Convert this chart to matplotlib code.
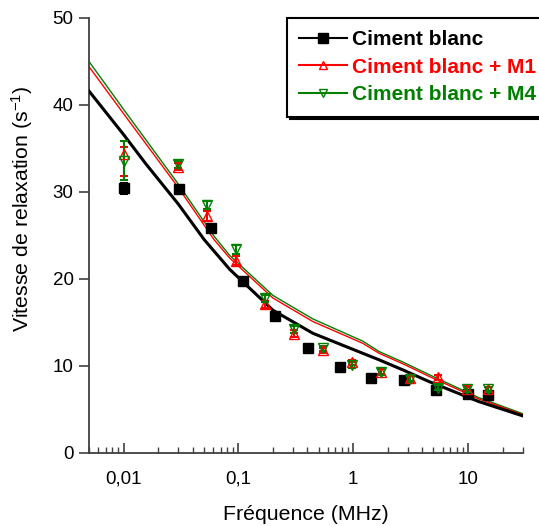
import matplotlib
matplotlib.use('Agg')
import matplotlib.pyplot as plt
from matplotlib.lines import Line2D
from matplotlib.ticker import LogLocator, NullFormatter
import numpy as np

plt.rcParams['font.family'] = ['Liberation Sans', 'DejaVu Sans']
plt.rcParams['mathtext.default'] = 'regular'

# points mesures (MHz, s-1)
freq_cb = [0.01, 0.0303, 0.058, 0.109, 0.207, 0.403, 0.762, 1.44, 2.75, 5.29, 10.0, 14.9]
r_cb = [30.4, 30.3, 25.9, 19.7, 15.7, 12.0, 9.85, 8.57, 8.38, 7.26, 6.76, 6.65]
err_cb = [0.6, 0.2, 0.2, 0.2, 0.2, 0.2, 0.2, 0.2, 0.2, 0.2, 0.2, 0.2]

freq_m = [0.01, 0.0298, 0.0536, 0.096, 0.171, 0.306, 0.541, 0.97, 1.74, 3.11, 5.5, 9.8, 14.8]
r_m1 = [34.4, 32.9, 27.2, 22.1, 17.1, 13.7, 11.8, 10.4, 9.35, 8.57, 8.7, 7.4, 7.3]
err_m1_low = [2.6, 0.4, 0.6, 0.5, 0.4, 0.4, 0.3, 0.3, 0.3, 0.3, 0.3, 0.3, 0.3]
err_m1_up = [0.8, 0.4, 0.6, 0.5, 0.4, 0.4, 0.3, 0.3, 0.3, 0.3, 0.3, 0.3, 0.3]
r_m4 = [33.6, 33.2, 28.5, 23.4, 17.8, 14.2, 12.0, 10.1, 9.3, 8.5, 7.5, 7.3, 7.3]
err_m4 = [2.2, 0.4, 0.5, 0.5, 0.4, 0.4, 0.3, 0.3, 0.3, 0.3, 0.3, 0.3, 0.3]

# courbes ajustees
freq_fit_cb = [0.005, 0.01, 0.0157, 0.03, 0.0505, 0.084, 0.2, 0.445, 1.21, 1.68, 2.75, 4.57, 12.4, 30]
fit_cb = [41.6, 36.6, 33.2, 28.6, 24.5, 21.1, 16.4, 13.75, 11.45, 10.7, 9.5, 8.2, 5.9, 4.25]
freq_fit_m = [0.005, 0.01, 0.03, 0.0615, 0.084, 0.2, 0.445, 1.21, 1.68, 2.75, 4.57, 12.4, 30]
fit_m1 = [44.4, 39.0, 30.5, 24.5, 22.4, 17.8, 15.1, 12.6, 11.45, 10.2, 8.8, 6.2, 4.4]
fit_m4 = [45.0, 39.5, 30.9, 24.9, 22.7, 18.1, 15.4, 12.85, 11.65, 10.4, 9.0, 6.35, 4.5]

xticks = [0.01, 0.1, 1, 10]
xtick_labels = ['0,01', '0,1', '1', '10']
yticks = [0, 10, 20, 30, 40, 50]

RED = '#ff0000'
GREEN = '#008000'
AXC = '#404040'

fig = plt.figure(figsize=(5.39, 5.26), dpi=100)
ax = fig.add_axes([0.165, 0.139, 0.805, 0.827])

ax.plot(freq_fit_m, fit_m4, color=GREEN, lw=1.0, zorder=2)
ax.plot(freq_fit_m, fit_m1, color=RED, lw=1.0, zorder=2)
ax.plot(freq_fit_cb, fit_cb, color='black', lw=2.2, zorder=3)

ax.errorbar(freq_cb, r_cb, yerr=err_cb, fmt='s', color='black', ms=7,
            capsize=3, elinewidth=1.5, capthick=1.5, zorder=4)
ax.errorbar(freq_m, r_m1, yerr=[err_m1_low, err_m1_up], fmt='^', color=RED,
            mfc='none', mec=RED, ms=7, capsize=3, elinewidth=1.5, capthick=1.5, zorder=5)
ax.errorbar(freq_m, r_m4, yerr=err_m4, fmt='v', color=GREEN,
            mfc='none', mec=GREEN, ms=7, capsize=3, elinewidth=1.5, capthick=1.5, zorder=5)

ax.set_xscale('log')
ax.set_xlim(0.005, 30)
ax.set_ylim(0, 50)
ax.set_xticks(xticks, xtick_labels)
ax.xaxis.set_minor_locator(LogLocator(base=10, subs=np.arange(2, 10)))
ax.xaxis.set_minor_formatter(NullFormatter())
ax.set_yticks(yticks)

for s in ['top', 'right']:
    ax.spines[s].set_visible(False)
for s in ['left', 'bottom']:
    ax.spines[s].set_color(AXC)
    ax.spines[s].set_linewidth(1.3)

ax.tick_params(axis='x', which='major', direction='in', length=7, width=1.2,
               color=AXC, labelsize=13.5, pad=13)
ax.tick_params(axis='x', which='minor', direction='in', length=4, width=1.0, color=AXC)
ax.tick_params(axis='y', direction='out', length=7, width=1.2, color=AXC,
               labelsize=13.5, pad=4)

ax.set_xlabel('Fréquence (MHz)', fontsize=15.3, labelpad=12)
ax.set_ylabel('Vitesse de relaxation (s$^{-1}$)', fontsize=15.3)
ax.yaxis.set_label_coords(-0.125, 0.56)

handles = [
    Line2D([], [], color='black', lw=1.5, marker='s', ms=7),
    Line2D([], [], color=RED, lw=1.5, marker='^', ms=6, mfc='none'),
    Line2D([], [], color=GREEN, lw=1.5, marker='v', ms=6, mfc='none'),
]
labels = ['Ciment blanc', 'Ciment blanc + M1', 'Ciment blanc + M4']
leg = fig.legend(handles, labels, loc='upper left', bbox_to_anchor=(0.532, 0.966),
                 borderaxespad=0, prop={'weight': 'bold', 'size': 15.0},
                 labelcolor='linecolor', frameon=True, fancybox=False,
                 edgecolor='black', shadow={'color': 'black', 'alpha': 1},
                 handlelength=2.3, handletextpad=0.25, labelspacing=0.4,
                 borderpad=0.6)
leg.get_frame().set_linewidth(1.5)

fig.savefig('out.png', dpi=100)
